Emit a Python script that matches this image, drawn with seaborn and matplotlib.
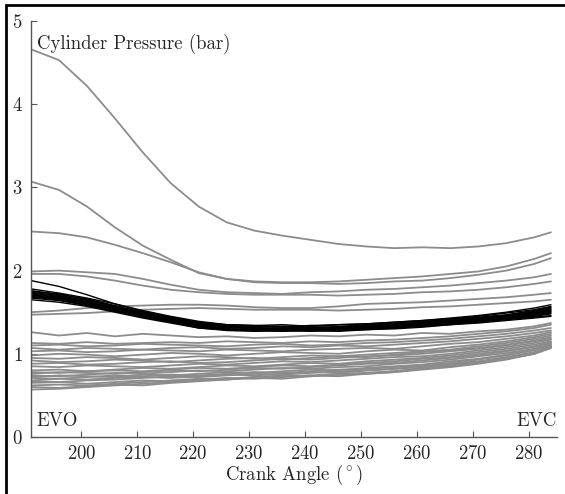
import numpy as np
import pandas as pd
import matplotlib.pyplot as plt
import seaborn as sns
from matplotlib.patches import Rectangle

# crank angle grid (deg) shared by every trace
crank_angle = [191, 196, 201, 206, 211, 216, 221, 226, 231, 236,
               241, 246, 251, 256, 261, 266, 271, 276, 281, 284]

# grey traces, upper group (bar)
grey_upper = [
    [4.66, 4.53, 4.22, 3.83, 3.42, 3.05, 2.77, 2.58, 2.48, 2.42, 2.37, 2.32, 2.29, 2.27, 2.28, 2.27, 2.29, 2.33, 2.40, 2.46],
    [3.07, 2.97, 2.77, 2.52, 2.30, 2.13, 1.97, 1.90, 1.87, 1.86, 1.86, 1.87, 1.89, 1.91, 1.93, 1.96, 1.99, 2.05, 2.14, 2.21],
    [2.47, 2.45, 2.40, 2.31, 2.21, 2.10, 1.98, 1.90, 1.86, 1.85, 1.85, 1.84, 1.85, 1.87, 1.88, 1.91, 1.95, 2.00, 2.08, 2.15],
    [1.99, 2.00, 1.98, 1.96, 1.90, 1.83, 1.77, 1.74, 1.73, 1.72, 1.74, 1.75, 1.77, 1.78, 1.80, 1.82, 1.85, 1.88, 1.92, 1.96],
    [1.96, 1.96, 1.93, 1.88, 1.82, 1.77, 1.74, 1.72, 1.71, 1.71, 1.71, 1.70, 1.71, 1.72, 1.74, 1.75, 1.77, 1.80, 1.84, 1.87],
    [1.50, 1.52, 1.55, 1.57, 1.58, 1.59, 1.59, 1.58, 1.56, 1.55, 1.55, 1.57, 1.60, 1.61, 1.62, 1.64, 1.66, 1.68, 1.71, 1.73],
    [1.47, 1.48, 1.49, 1.51, 1.53, 1.54, 1.55, 1.54, 1.53, 1.53, 1.53, 1.52, 1.53, 1.54, 1.56, 1.57, 1.59, 1.61, 1.63, 1.65],
]

# grey traces, lower group (bar)
grey_lower = [
    [1.26, 1.22, 1.25, 1.21, 1.24, 1.22, 1.20, 1.21, 1.19, 1.20, 1.22, 1.21, 1.23, 1.22, 1.25, 1.24, 1.27, 1.29, 1.33, 1.37],
    [1.13, 1.12, 1.14, 1.12, 1.13, 1.14, 1.13, 1.15, 1.14, 1.13, 1.15, 1.14, 1.16, 1.17, 1.19, 1.21, 1.24, 1.27, 1.31, 1.35],
    [1.10, 1.11, 1.09, 1.10, 1.12, 1.11, 1.10, 1.09, 1.11, 1.12, 1.10, 1.11, 1.13, 1.14, 1.16, 1.18, 1.21, 1.24, 1.28, 1.31],
    [1.07, 1.05, 1.07, 1.06, 1.05, 1.07, 1.08, 1.06, 1.07, 1.09, 1.08, 1.10, 1.09, 1.11, 1.13, 1.15, 1.18, 1.21, 1.25, 1.28],
    [1.03, 1.04, 1.02, 1.03, 1.05, 1.04, 1.03, 1.05, 1.04, 1.03, 1.05, 1.06, 1.07, 1.06, 1.09, 1.12, 1.14, 1.18, 1.22, 1.26],
    [0.98, 1.00, 0.99, 0.97, 0.99, 1.01, 1.00, 0.98, 1.00, 1.02, 1.01, 1.00, 1.03, 1.05, 1.04, 1.08, 1.11, 1.15, 1.20, 1.24],
    [0.95, 0.94, 0.96, 0.95, 0.93, 0.95, 0.97, 0.96, 0.94, 0.96, 0.98, 0.97, 0.99, 1.01, 1.03, 1.05, 1.09, 1.13, 1.18, 1.22],
    [0.92, 0.90, 0.91, 0.93, 0.92, 0.90, 0.92, 0.94, 0.95, 0.93, 0.95, 0.97, 0.96, 0.99, 1.02, 1.04, 1.07, 1.11, 1.16, 1.20],
    [0.88, 0.89, 0.87, 0.88, 0.90, 0.91, 0.89, 0.90, 0.92, 0.94, 0.93, 0.95, 0.97, 0.98, 1.00, 1.03, 1.06, 1.10, 1.15, 1.18],
    [0.85, 0.84, 0.86, 0.85, 0.84, 0.86, 0.88, 0.87, 0.89, 0.91, 0.90, 0.92, 0.94, 0.96, 0.97, 1.00, 1.04, 1.08, 1.13, 1.17],
    [0.80, 0.81, 0.79, 0.81, 0.83, 0.82, 0.84, 0.86, 0.85, 0.87, 0.89, 0.88, 0.91, 0.93, 0.95, 0.98, 1.02, 1.06, 1.11, 1.15],
    [0.78, 0.77, 0.79, 0.80, 0.79, 0.81, 0.83, 0.82, 0.84, 0.86, 0.85, 0.87, 0.89, 0.91, 0.94, 0.96, 1.00, 1.04, 1.09, 1.14],
    [0.76, 0.78, 0.77, 0.76, 0.78, 0.80, 0.79, 0.81, 0.83, 0.82, 0.84, 0.86, 0.88, 0.89, 0.92, 0.95, 0.98, 1.03, 1.08, 1.13],
    [0.74, 0.73, 0.75, 0.77, 0.76, 0.78, 0.80, 0.79, 0.81, 0.83, 0.82, 0.84, 0.85, 0.88, 0.90, 0.93, 0.97, 1.01, 1.06, 1.12],
    [0.72, 0.74, 0.73, 0.72, 0.75, 0.74, 0.76, 0.78, 0.77, 0.79, 0.81, 0.80, 0.83, 0.85, 0.87, 0.91, 0.94, 0.99, 1.05, 1.11],
    [0.71, 0.70, 0.72, 0.74, 0.73, 0.75, 0.74, 0.76, 0.78, 0.77, 0.79, 0.81, 0.82, 0.84, 0.86, 0.89, 0.93, 0.98, 1.04, 1.10],
    [0.68, 0.70, 0.69, 0.71, 0.72, 0.71, 0.73, 0.75, 0.74, 0.76, 0.78, 0.77, 0.80, 0.82, 0.85, 0.88, 0.91, 0.96, 1.02, 1.09],
    [0.67, 0.66, 0.68, 0.69, 0.71, 0.73, 0.72, 0.74, 0.76, 0.75, 0.77, 0.79, 0.80, 0.82, 0.84, 0.87, 0.90, 0.95, 1.01, 1.08],
    [0.65, 0.66, 0.64, 0.66, 0.68, 0.67, 0.69, 0.71, 0.70, 0.72, 0.74, 0.73, 0.76, 0.78, 0.81, 0.84, 0.88, 0.93, 1.00, 1.09],
    [0.62, 0.63, 0.62, 0.64, 0.66, 0.68, 0.70, 0.69, 0.72, 0.74, 0.73, 0.76, 0.77, 0.79, 0.83, 0.86, 0.90, 0.95, 1.01, 1.08],
    [0.60, 0.59, 0.61, 0.63, 0.62, 0.65, 0.67, 0.69, 0.71, 0.70, 0.73, 0.75, 0.76, 0.78, 0.82, 0.85, 0.89, 0.94, 1.00, 1.07],
    [0.57, 0.58, 0.60, 0.62, 0.64, 0.66, 0.68, 0.70, 0.72, 0.73, 0.74, 0.75, 0.77, 0.79, 0.82, 0.85, 0.89, 0.94, 1.00, 1.07],
]

# black traces (bar)
black_runs = [
    [1.88, 1.81, 1.71, 1.60, 1.51, 1.44, 1.38, 1.35, 1.34, 1.33, 1.34, 1.35, 1.36, 1.38, 1.40, 1.43, 1.46, 1.50, 1.55, 1.59],
    [1.78, 1.73, 1.67, 1.60, 1.52, 1.45, 1.39, 1.35, 1.34, 1.35, 1.33, 1.35, 1.36, 1.38, 1.40, 1.42, 1.45, 1.49, 1.53, 1.57],
    [1.76, 1.71, 1.66, 1.58, 1.50, 1.44, 1.37, 1.34, 1.33, 1.32, 1.34, 1.33, 1.35, 1.37, 1.39, 1.41, 1.44, 1.47, 1.52, 1.56],
    [1.75, 1.72, 1.65, 1.57, 1.49, 1.43, 1.36, 1.33, 1.32, 1.33, 1.32, 1.32, 1.34, 1.36, 1.38, 1.40, 1.43, 1.46, 1.51, 1.55],
    [1.74, 1.70, 1.64, 1.57, 1.48, 1.42, 1.36, 1.32, 1.31, 1.31, 1.32, 1.31, 1.33, 1.35, 1.37, 1.40, 1.43, 1.46, 1.50, 1.54],
    [1.73, 1.69, 1.63, 1.55, 1.48, 1.41, 1.35, 1.33, 1.30, 1.31, 1.30, 1.32, 1.33, 1.34, 1.37, 1.39, 1.42, 1.45, 1.49, 1.53],
    [1.72, 1.68, 1.62, 1.56, 1.47, 1.42, 1.34, 1.31, 1.31, 1.30, 1.31, 1.30, 1.32, 1.34, 1.36, 1.39, 1.41, 1.45, 1.49, 1.52],
    [1.71, 1.67, 1.62, 1.54, 1.47, 1.40, 1.34, 1.32, 1.30, 1.29, 1.30, 1.31, 1.31, 1.33, 1.35, 1.38, 1.41, 1.44, 1.48, 1.51],
    [1.70, 1.67, 1.61, 1.54, 1.46, 1.40, 1.33, 1.30, 1.29, 1.30, 1.29, 1.30, 1.31, 1.33, 1.35, 1.37, 1.40, 1.43, 1.47, 1.50],
    [1.69, 1.66, 1.60, 1.53, 1.46, 1.39, 1.33, 1.30, 1.28, 1.29, 1.29, 1.29, 1.30, 1.32, 1.34, 1.37, 1.39, 1.43, 1.46, 1.49],
    [1.68, 1.65, 1.59, 1.52, 1.45, 1.38, 1.32, 1.29, 1.28, 1.28, 1.29, 1.28, 1.30, 1.31, 1.34, 1.36, 1.39, 1.42, 1.45, 1.48],
    [1.67, 1.64, 1.58, 1.51, 1.44, 1.38, 1.31, 1.28, 1.27, 1.28, 1.27, 1.28, 1.29, 1.31, 1.33, 1.35, 1.38, 1.41, 1.44, 1.46],
    [1.65, 1.62, 1.57, 1.50, 1.43, 1.37, 1.31, 1.29, 1.28, 1.27, 1.28, 1.27, 1.29, 1.30, 1.32, 1.35, 1.37, 1.40, 1.43, 1.45],
]


def to_long(runs, tag):
    rows = []
    for i, run in enumerate(runs):
        for a, p in zip(crank_angle, run):
            rows.append({'run': f'{tag}{i}', 'angle': a, 'pressure': p})
    return pd.DataFrame(rows)


grey_df = pd.concat([to_long(grey_upper, 'gu'), to_long(grey_lower, 'gl')])
black_df = to_long(black_runs, 'b')

sns.set_style('ticks')
plt.rcParams['font.family'] = 'serif'
plt.rcParams['font.serif'] = ['cmr10', 'DejaVu Serif']
plt.rcParams['mathtext.fontset'] = 'cm'
plt.rcParams['axes.formatter.use_mathtext'] = True

fig = plt.figure(figsize=(5.65, 4.94), dpi=100)
ax = fig.add_axes([0.055, 0.1154, 0.93, 0.842])

sns.lineplot(data=grey_df, x='angle', y='pressure', units='run', estimator=None,
             color='#8c8c8c', lw=1.3, ax=ax)
sns.lineplot(data=black_df, x='angle', y='pressure', units='run', estimator=None,
             color='black', lw=1.0, ax=ax)

ax.set_xlim(191, 285)
ax.set_ylim(0, 5)
ax.set_xticks(range(200, 281, 10))
ax.set_yticks(range(0, 6))
ax.tick_params(direction='in', length=4, width=0.8, color='#555555',
               labelsize=13.5, pad=6)
sns.despine(ax=ax)
for side in ['left', 'bottom']:
    ax.spines[side].set_color('#555555')
    ax.spines[side].set_linewidth(1.0)

ax.set_xlabel('Crank Angle ($^\\circ$)', fontsize=13.5, labelpad=0)
ax.set_ylabel('')
ax.text(192, 4.85, 'Cylinder Pressure (bar)', fontsize=13.5, ha='left', va='top')
ax.text(192, 0.08, 'EVO', fontsize=13.5, ha='left', va='bottom')
ax.text(285, 0.08, 'EVC', fontsize=13.5, ha='right', va='bottom')

# frame around the figure (only left and top edges are inside the crop)
fig.add_artist(Rectangle((6 / 565, -1), 2, 2 - 5 / 494, transform=fig.transFigure,
                         fill=False, edgecolor='black', lw=2.0, clip_on=False))

plt.savefig('out.png', dpi=100)
plt.close()
